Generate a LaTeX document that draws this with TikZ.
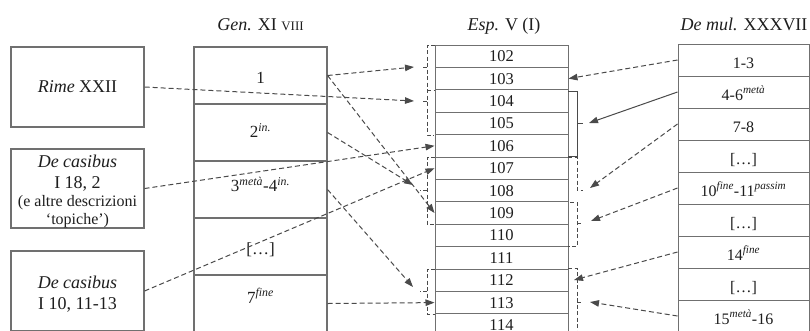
\documentclass[tikz,border=0pt]{standalone}
\usepackage{fontspec}
\setmainfont{Liberation Serif}
\usetikzlibrary{arrows.meta}
\definecolor{boxgray}{HTML}{707070}
\definecolor{linegray}{HTML}{4A4A4A}
\definecolor{txtcol}{HTML}{1E1E1E}
\newcommand\sups[1]{\textsuperscript{\itshape #1}}
\newcommand\fakesc[1]{{\fontsize{13}{14}\selectfont #1}}
\begin{document}
\begin{tikzpicture}[x=1pt,y=-1pt,
  every node/.style={text=txtcol},
  box/.style={draw=boxgray, line width=1.1pt, inner sep=0pt, minimum width=133pt, text height=11pt, text depth=0pt, font=\fontsize{18}{20}\selectfont},
  btxt/.style={inner sep=0pt, anchor=base, font=\fontsize{18}{20}\selectfont},
  bstxt/.style={inner sep=0pt, anchor=base, font=\fontsize{16}{18}\selectfont},
  gcell/.style={draw=boxgray, line width=1.1pt, minimum width=133pt, minimum height=57pt, inner sep=0pt},
  gtxt/.style={inner sep=0pt, text height=11pt, text depth=0pt, font=\fontsize{17}{19}\selectfont},
  ecell/.style={draw=boxgray, line width=1pt, minimum width=133pt, minimum height=22.4pt, inner sep=0pt, text height=11pt, text depth=0pt, font=\fontsize{16.5}{18}\selectfont},
  mcell/.style={draw=boxgray, line width=1pt, minimum width=131pt, minimum height=32pt, inner sep=0pt, text height=16pt, text depth=0pt, font=\fontsize{16}{18}\selectfont},
  title/.style={inner sep=0pt, text height=11pt, text depth=0pt, font=\fontsize{18}{20}\selectfont},
  conn/.style={draw=linegray, line width=1pt, dash pattern=on 5pt off 3pt, -{Triangle[length=9pt,width=6.5pt]}},
  sconn/.style={draw=linegray, line width=1pt, -{Triangle[length=9pt,width=6.5pt]}},
  brk/.style={draw=linegray, line width=1pt, dash pattern=on 4pt off 2.5pt},
  sbrk/.style={draw=linegray, line width=1pt},
]
\clip (0,0) rectangle (810,330);
\fill[white] (0,0) rectangle (810,330);

% titles
\node[title] (tg) at (260.5,25) {\textit{Gen.} XI \fakesc{VIII}};
\node[title] (te) at (504,25) {\textit{Esp.} V (I)};
\node[title] (tm) at (744,25) {\textit{De mul.} XXXVII};

% left boxes
\node[box, minimum height=80pt] (rime) at (77.5,87) {\textit{Rime} XXII};
\node[box, minimum height=79pt] (dc1) at (77.5,188.5) {};
\node[btxt] (dc1a) at (77.5,167) {\textit{De casibus}};
\node[btxt] (dc1b) at (77.5,188) {I 18, 2};
\node[bstxt] (dc1c) at (77.5,206) {(e altre descrizioni};
\node[bstxt] (dc1d) at (77.5,224) {‘topiche’)};
\node[box, minimum height=80pt] (dc2) at (77.5,291) {};
\node[btxt] (dc2a) at (77.5,288) {\textit{De casibus}};
\node[btxt] (dc2b) at (77.5,309) {I 10, 11-13};

% Gen. column
\node[gcell] (g1) at (260.5,75.5) {};
\node[gcell] (g2) at (260.5,132.5) {};
\node[gcell] (g3) at (260.5,189.5) {};
\node[gcell] (g4) at (260.5,246.5) {};
\node[gcell] (g5) at (260.5,303.5) {};
\node[gtxt] (g1t) at (260.5,77.5) {1};
\node[gtxt] (g2t) at (260.5,132) {2\sups{in.}};
\node[gtxt] (g3t) at (260.5,186) {3\sups{metà}-4\sups{in.}};
\node[gtxt] (g4t) at (260.5,248.5) {[…]};
\node[gtxt] (g5t) at (260.5,297.5) {7\sups{fine}};

% Esp. column
\foreach \n [count=\k from 0] in {102,103,104,105,106,107,108,109,110,111,112,113,114}
  \node[ecell] (e\n) at (501.5,56.2+22.4*\k) {\n};

% De mul. column
\node[mcell] (m0) at (743.5,60) {1-3};
\node[mcell] (m1) at (743.5,92) {4-6\sups{metà}};
\node[mcell] (m2) at (743.5,124) {7-8};
\node[mcell] (m3) at (743.5,156) {[…]};
\node[mcell] (m4) at (743.5,188) {10\sups{fine}-11\sups{passim}};
\node[mcell] (m5) at (743.5,220) {[…]};
\node[mcell] (m6) at (743.5,252) {14\sups{fine}};
\node[mcell] (m7) at (743.5,284) {[…]};
\node[mcell] (m8) at (743.5,316) {15\sups{metà}-16};

% left brackets
\draw[brk] (435,45) -- (427,45) -- (427,135) -- (434,135);
\draw[brk] (427,90) -- (434,90);
\draw[brk] (427,67) -- (421,67);
\draw[brk] (427,101) -- (421,101);
\draw[brk] (435,157) -- (427,157) -- (427,224) -- (435,224);
\draw[brk] (427,190) -- (420,190);
\draw[brk] (435,269) -- (427,269) -- (427,314) -- (435,314);
\draw[brk] (427,291) -- (420,291);

% right brackets
\draw[sbrk] (568,91) -- (577,91) -- (577,156) -- (568,156);
\draw[sbrk] (577,123) -- (583,123);
\draw[brk] (568,157) -- (577,157) -- (577,190) -- (583,190);
\draw[brk] (570,202) -- (577,202) -- (577,246) -- (568,246);
\draw[brk] (577,223) -- (583,223);
\draw[brk] (568,268) -- (577,268) -- (577,335);
\draw[brk] (577,302) -- (583,302);

% bracket targets
\coordinate (l1t) at (414,67);
\coordinate (l2t) at (414,101);
\coordinate (l3t) at (413,185);
\coordinate (l4t) at (413,287);
\coordinate (r1t) at (589,123);
\coordinate (r2t) at (590,188);
\coordinate (r3t) at (591,221);
\coordinate (r4a) at (574,280);
\coordinate (r4t) at (590,302);

% connectors left
\draw[conn] (g1.east) -- (l1t);
\draw[conn] (g1.east) -- (e109.west);
\draw[conn] (rime.east) -- (l2t);
\draw[conn] (g2.east) -- (l3t);
\draw[conn] (g3.east) -- (l4t);
\draw[conn] (g5.east) -- (e113.west);
\draw[conn] (dc1.east) -- (e106.west);
\draw[conn] (dc2.east) -- (e107.west);

% connectors right
\draw[conn] (m0.west) -- (e103.east);
\draw[sconn] (m1.west) -- (r1t);
\draw[conn] (m2.west) -- (r2t);
\draw[conn] (m4.west) -- (r3t);
\draw[conn] (m6.west) -- (r4a);
\draw[conn] (m8.west) -- (r4t);
\end{tikzpicture}
\end{document}
